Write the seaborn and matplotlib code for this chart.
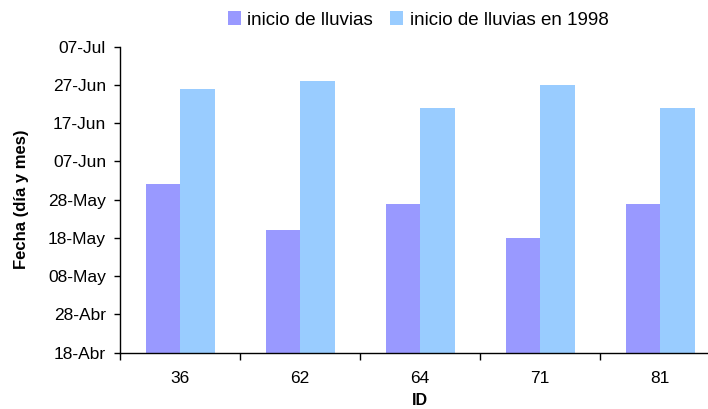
import pandas as pd
import matplotlib.pyplot as plt
import seaborn as sns

# Data
ids = ['36', '62', '64', '71', '81']
inicio = ['2000-06-01', '2000-05-20', '2000-05-27', '2000-05-18', '2000-05-27']
inicio_1998 = ['2000-06-26', '2000-06-28', '2000-06-21', '2000-06-27', '2000-06-21']
series = ['inicio de lluvias', 'inicio de lluvias en 1998']
base_date = '2000-04-18'
tick_labels = ['18-Abr', '28-Abr', '08-May', '18-May', '28-May',
               '07-Jun', '17-Jun', '27-Jun', '07-Jul']

# Days since the axis minimum (18-Abr)
base = pd.Timestamp(base_date)
df = pd.DataFrame({
    'ID': ids * 2,
    'serie': [series[0]] * len(ids) + [series[1]] * len(ids),
    'fecha': pd.to_datetime(inicio + inicio_1998),
})
df['dias'] = (df['fecha'] - base).dt.days

sns.set_style('white', {'text.color': 'black', 'axes.labelcolor': 'black',
                        'xtick.color': 'black', 'ytick.color': 'black'})
plt.rcParams['font.family'] = ['Liberation Sans', 'DejaVu Sans']

fig = plt.figure(figsize=(7.08, 4.09), dpi=100)
ax = fig.add_axes([120 / 708, (409 - 352.7) / 409, 600 / 708, 306 / 409])

sns.barplot(
    data=df, x='ID', y='dias', hue='serie', order=ids, hue_order=series,
    palette=['#9999FF', '#99CCFF'], saturation=1, width=0.575, gap=0,
    linewidth=0, ax=ax, legend=True
)

# y axis: dates every 10 days
ax.set_ylim(0, 10 * (len(tick_labels) - 1))
ax.set_yticks(range(0, 10 * len(tick_labels), 10))
ax.set_yticklabels(tick_labels, fontsize=12.5)
ax.tick_params(axis='y', direction='out', length=4, width=1, pad=6, left=True, color='black')

# x axis: ticks between categories, labels at centres
ax.set_xlim(-0.5, len(ids) - 0.5)
ax.set_xticks([i - 0.5 for i in range(len(ids) + 1)])
ax.set_xticklabels([])
ax.tick_params(axis='x', which='major', direction='out', length=5, width=1, bottom=True, color='black')
ax.set_xticks(range(len(ids)), minor=True)
ax.set_xticklabels(ids, minor=True, fontsize=12.5)
ax.tick_params(axis='x', which='minor', length=0, pad=13)

ax.set_xlabel('ID', fontsize=11.5, fontweight='bold', labelpad=5)
ax.set_ylabel('Fecha (día y mes)', fontsize=12, fontweight='bold', labelpad=14)

sns.despine(ax=ax)
for side in ['left', 'bottom']:
    ax.spines[side].set_color('black')
    ax.spines[side].set_linewidth(1)

handles, labels = ax.get_legend_handles_labels()
ax.get_legend().remove()
fig.legend(handles, labels, loc='center', bbox_to_anchor=(418 / 708, 1 - 20 / 409),
           ncol=2, frameon=False, fontsize=13.5, handlelength=0.7, handleheight=0.7,
           handletextpad=0.35, columnspacing=0.9)

fig.savefig('out.png', dpi=100)
